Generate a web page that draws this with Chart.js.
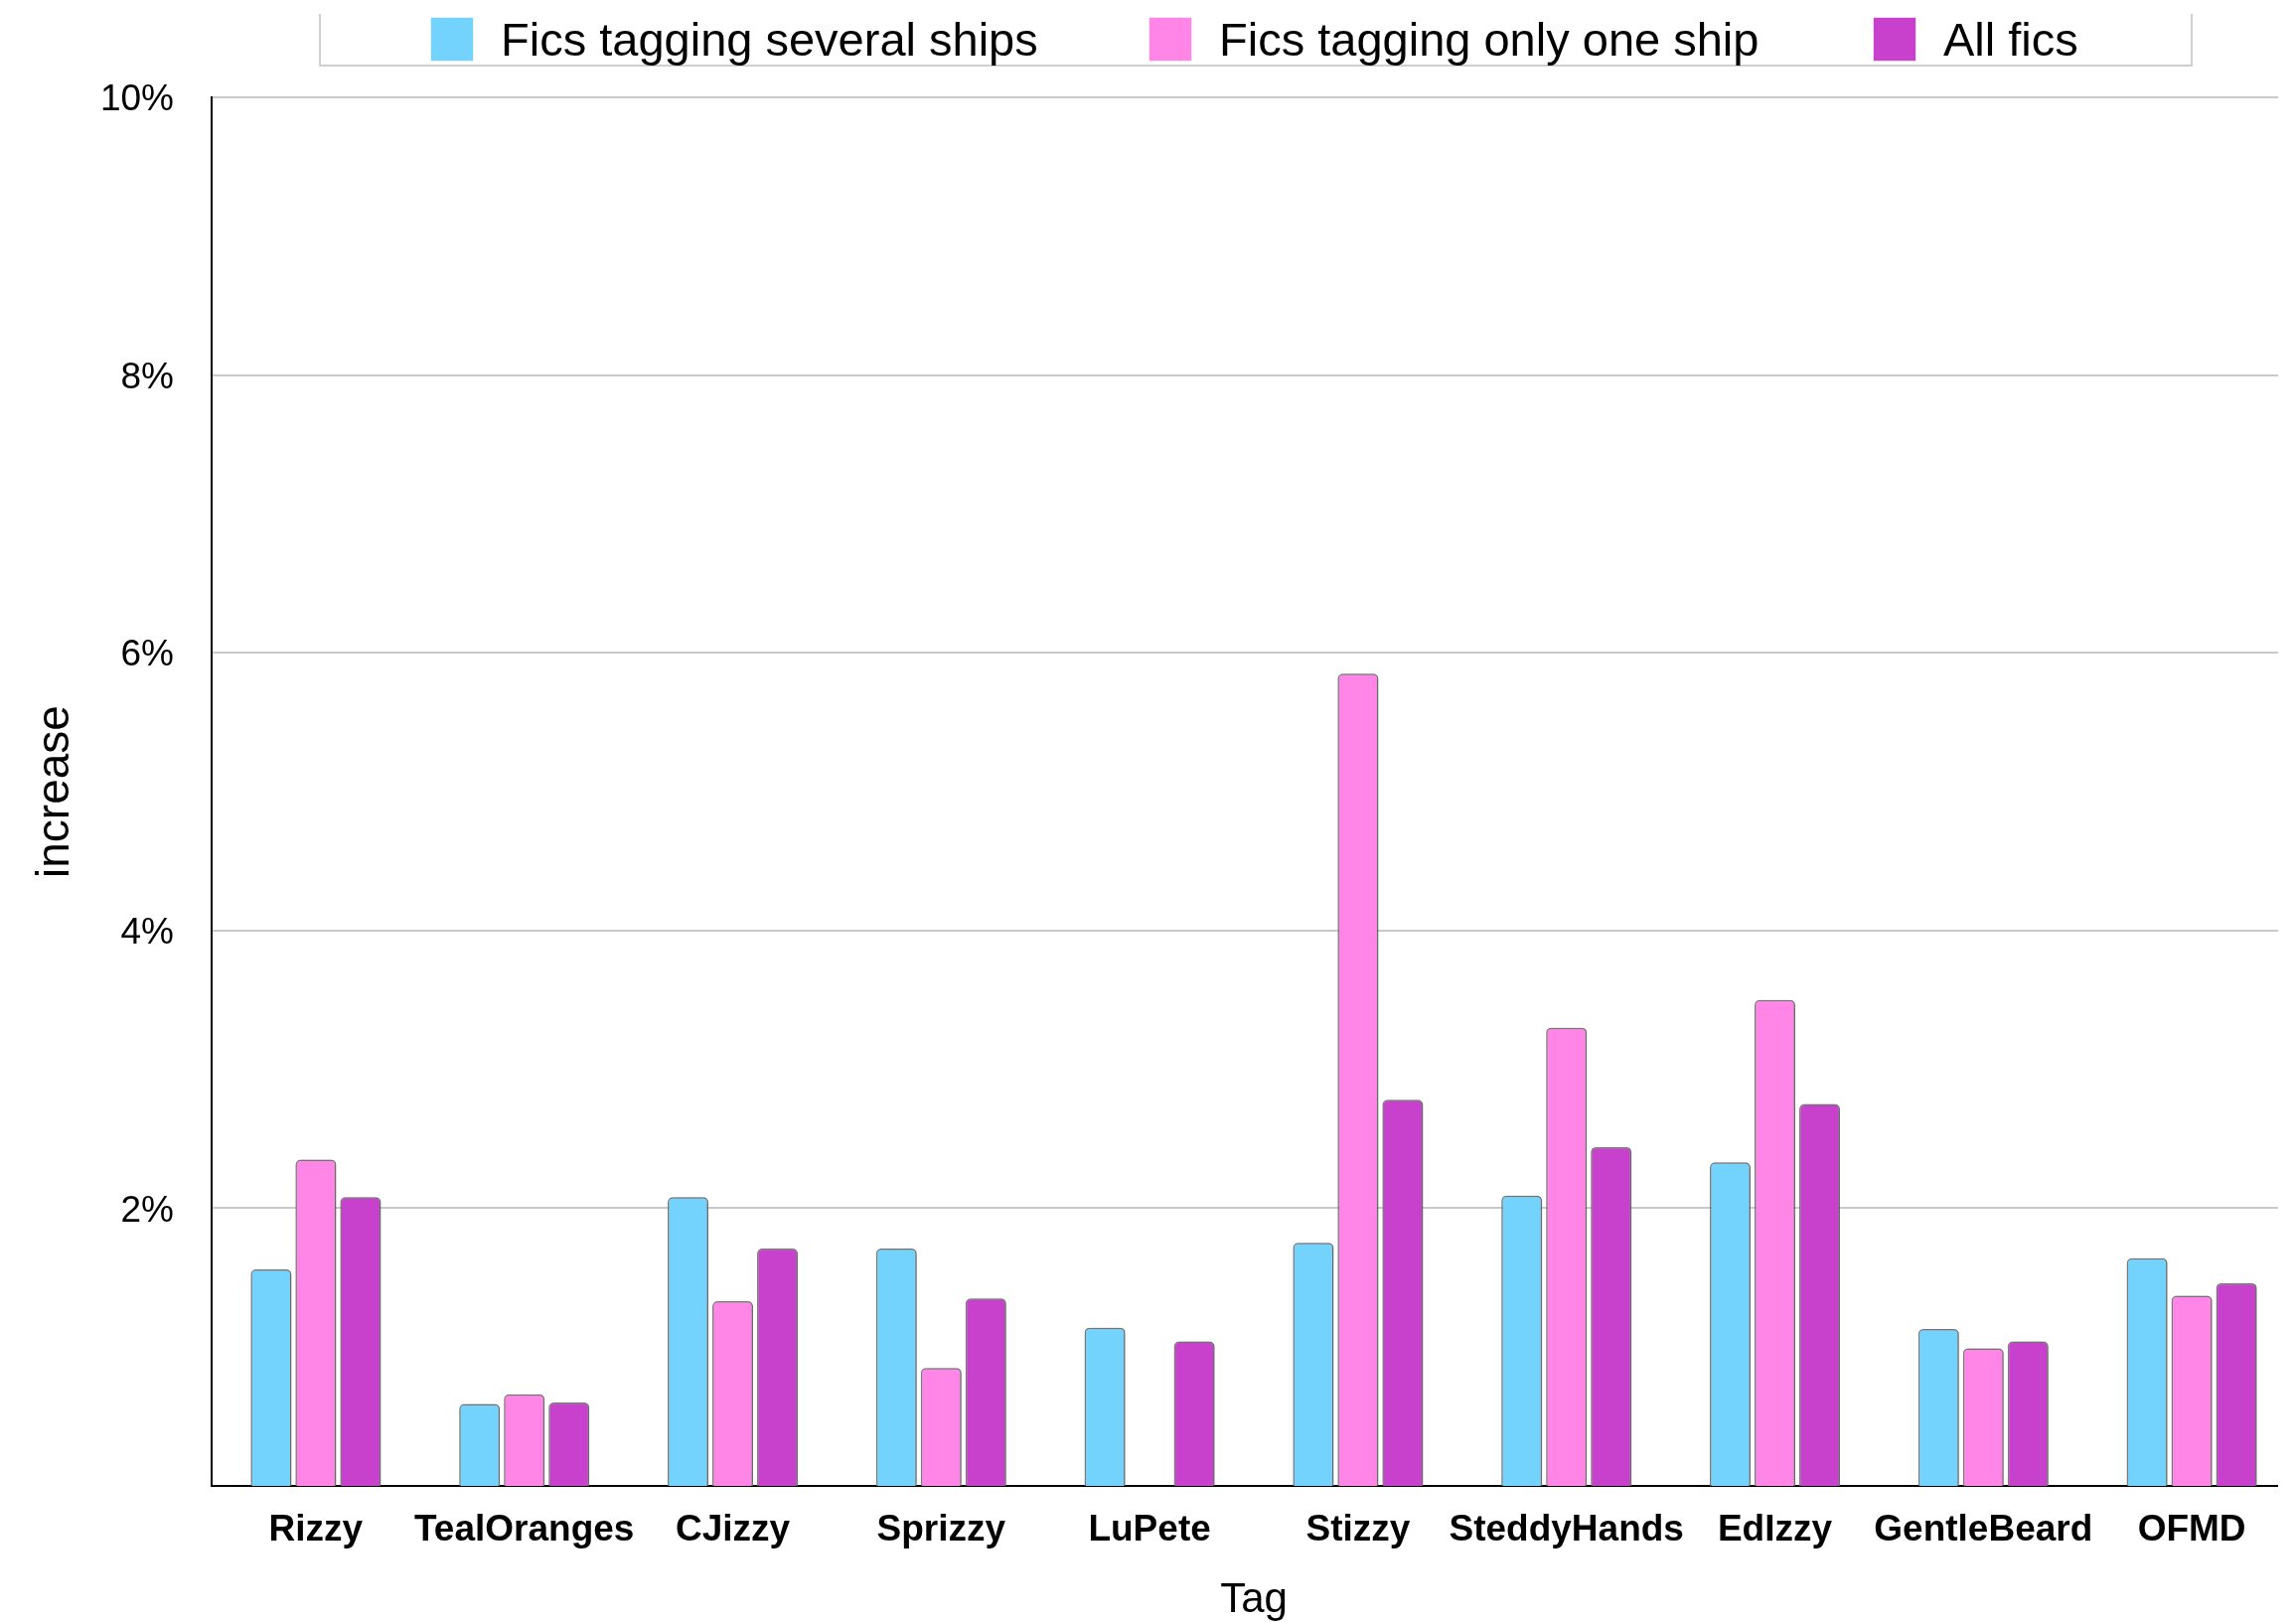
<!DOCTYPE html>
<html>
<head>
<meta charset="utf-8">
<script src="https://cdn.jsdelivr.net/npm/chart.js@4/dist/chart.umd.min.js"></script>
<style>
  html, body { margin: 0; padding: 0; background: #ffffff; }
  #wrap { position: relative; width: 2311px; height: 1633px; }
  #chart { position: absolute; left: 0; top: 0; }
  #legend {
    position: absolute; left: 321px; top: 14px; width: 1882px; height: 51px;
    border-left: 2px solid #cfcfcf; border-right: 2px solid #cfcfcf; border-bottom: 2px solid #cfcfcf;
    font-family: "Liberation Sans", Arial, Helvetica, sans-serif; font-size: 47px; color: #000;
  }
  .item { position: absolute; top: 3px; height: 45px; display: flex; align-items: center; white-space: nowrap; }
  .sw { width: 44px; height: 45px; box-sizing: border-box; border: 1px solid rgba(255,255,255,0.8); margin-right: 27px; }
</style>
</head>
<body>
<div id="wrap">
  <canvas id="chart" width="2311" height="1633"></canvas>
  <div id="legend"></div>
</div>
<script>
const categories = ['Rizzy', 'TealOranges', 'CJizzy', 'Sprizzy', 'LuPete', 'Stizzy', 'SteddyHands', 'EdIzzy', 'GentleBeard', 'OFMD'];
const seriesNames = ['Fics tagging several ships', 'Fics tagging only one ship', 'All fics'];
const severalShips = [1.56, 0.59, 2.08, 1.71, 1.14, 1.75, 2.09, 2.33, 1.13, 1.64];
const onlyOneShip  = [2.35, 0.66, 1.33, 0.85, null, 5.85, 3.30, 3.50, 0.99, 1.37];
const allFics      = [2.08, 0.60, 1.71, 1.35, 1.04, 2.78, 2.44, 2.75, 1.04, 1.46];
const seriesColors = ['#74D3FD', '#FF86E6', '#C741CC'];
const yTicks = [2, 4, 6, 8, 10];
const xTitle = 'Tag';
const yTitle = 'increase';

const FONT = '"Liberation Sans", Arial, Helvetica, sans-serif';

// HTML legend
const legendLefts = [110, 833, 1562];
const legendEl = document.getElementById('legend');
seriesNames.forEach((name, i) => {
  const it = document.createElement('div');
  it.className = 'item';
  it.style.left = legendLefts[i] + 'px';
  const sw = document.createElement('span');
  sw.className = 'sw';
  sw.style.background = seriesColors[i];
  const tx = document.createElement('span');
  tx.textContent = name;
  it.appendChild(sw); it.appendChild(tx);
  legendEl.appendChild(it);
});

// grid lines and axis in the reference stop short of the right edge
const gridClipPlugin = {
  id: 'gridClip',
  beforeDatasetsDraw(chart) {
    const ctx = chart.ctx;
    ctx.save();
    ctx.fillStyle = '#ffffff';
    ctx.fillRect(2293, 0, chart.width - 2293, chart.chartArea.bottom + 3);
    ctx.restore();
  }
};

const shadowPlugin = {
  id: 'barShadow',
  beforeDatasetsDraw(chart) {
    const ctx = chart.ctx;
    ctx.save();
    ctx.shadowColor = 'rgba(0,0,0,0.4)';
    ctx.shadowBlur = 5;
    ctx.shadowOffsetX = 1;
    ctx.shadowOffsetY = 0;
  },
  afterDatasetsDraw(chart) {
    chart.ctx.restore();
  }
};

const seriesData = [severalShips, onlyOneShip, allFics];
const datasets = seriesNames.map((name, i) => ({
  label: name,
  data: seriesData[i],
  backgroundColor: seriesColors[i],
  borderColor: 'rgba(125,125,125,0.9)',
  borderWidth: 1.5,
  borderSkipped: 'start',
  borderRadius: { topLeft: 5, topRight: 5, bottomLeft: 0, bottomRight: 0 },
  categoryPercentage: 0.6435,
  barPercentage: 0.911
}));

new Chart(document.getElementById('chart'), {
  type: 'bar',
  data: { labels: categories, datasets },
  plugins: [gridClipPlugin, shadowPlugin],
  options: {
    responsive: false,
    animation: false,
    events: [],
    layout: { padding: { left: 25, right: 0, top: 98, bottom: 0 } },
    plugins: { legend: { display: false }, tooltip: { enabled: false } },
    scales: {
      x: {
        grid: { display: false, drawTicks: false },
        border: { display: true, color: '#000', width: 2 },
        ticks: { color: '#000', font: { family: FONT, size: 37, weight: 'bold' }, padding: 23, maxRotation: 0, autoSkip: false },
        title: { display: true, text: xTitle, color: '#000', font: { family: FONT, size: 42 }, padding: { top: 0, bottom: -4 } },
        afterFit(scale) { scale.height = 137; }
      },
      y: {
        min: 0, max: 10,
        afterBuildTicks(scale) { scale.ticks = yTicks.map(v => ({ value: v })); },
        grid: { color: '#c9c9c9', lineWidth: 2, drawTicks: false },
        border: { display: true, color: '#000', width: 2 },
        ticks: { color: '#000', font: { family: FONT, size: 37 }, padding: 38, labelOffset: 3, callback: v => v + '%' },
        title: { display: true, text: yTitle, color: '#000', font: { family: FONT, size: 46 }, padding: { top: 4, bottom: 0 } },
        afterFit(scale) { scale.width = 188; }
      }
    }
  }
});
</script>
</body>
</html>
